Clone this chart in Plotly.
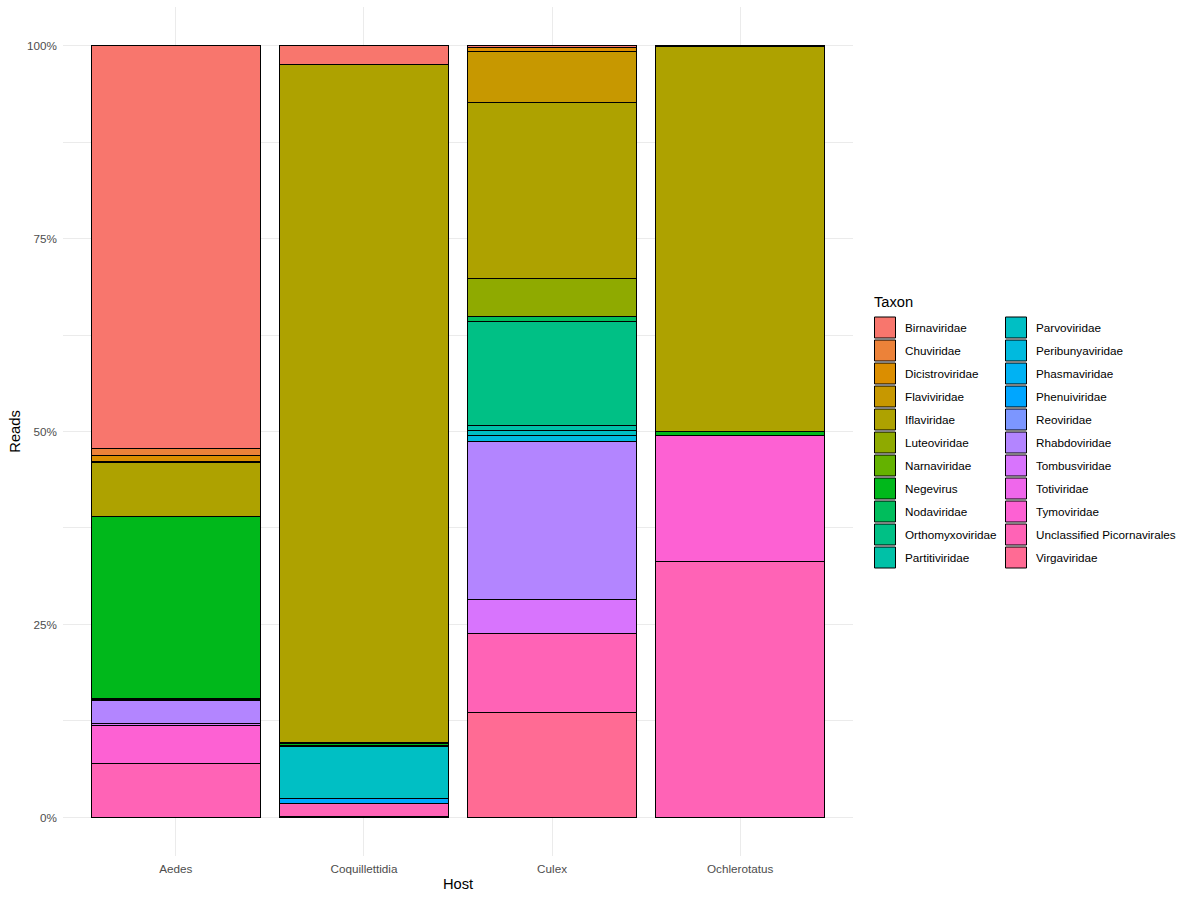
import math
import plotly.graph_objects as go

# ---------------- data ----------------
hosts = ["Aedes", "Coquillettidia", "Culex", "Ochlerotatus"]

taxa = ["Birnaviridae", "Chuviridae", "Dicistroviridae", "Flaviviridae", "Iflaviridae",
        "Luteoviridae", "Narnaviridae", "Negevirus", "Nodaviridae", "Orthomyxoviridae",
        "Partitiviridae", "Parvoviridae", "Peribunyaviridae", "Phasmaviridae", "Phenuiviridae",
        "Reoviridae", "Rhabdoviridae", "Tombusviridae", "Totiviridae", "Tymoviridae",
        "Unclassified Picornavirales", "Virgaviridae"]

# percent of reads per taxon (same order as taxa); None = not present
aedes = [52.1, 0.9, 0.8, 0.15, 6.95, None, None, 23.6, 0.1, None,
         None, 0.2, None, None, None, None, 3.0, 0.15, None, 5.0, 6.95, None]
coquillettidia = [2.5, None, None, None, 87.6, 0.15, None, 0.15, None, None,
                  0.15, 6.8, None, None, 0.65, None, None, None, None, None, 1.6, 0.15]
culex = [0.2, None, 0.5, 6.6, 22.8, 4.9, None, None, 0.65, 13.5,
         0.65, 0.65, 0.77, None, None, None, 20.47, 4.4, None, None, 10.24, 13.56]
ochlerotatus = [None, None, None, 0.15, 49.84, None, None, 0.5, None, None,
                None, None, None, None, None, None, None, None, None, 16.3, 33.12, None]

y_ticks = [0, 25, 50, 75, 100]
y_ticklabels = ["0%", "25%", "50%", "75%", "100%"]

series = [aedes, coquillettidia, culex, ochlerotatus]


# ---------------- ggplot hue palette ----------------
def hcl_hex(h, c=100.0, l=65.0):
    Xn, Yn, Zn = 95.047, 100.0, 108.883
    Y = Yn * ((l + 16) / 116) ** 3
    den = Xn + 15 * Yn + 3 * Zn
    un, vn = 4 * Xn / den, 9 * Yn / den
    u = c * math.cos(math.radians(h))
    v = c * math.sin(math.radians(h))
    up = u / (13 * l) + un
    vp = v / (13 * l) + vn
    X = Y * 9 * up / (4 * vp)
    Z = Y * (12 - 3 * up - 20 * vp) / (4 * vp)
    X, Y, Z = X / 100, Y / 100, Z / 100
    r = 3.240479 * X - 1.537150 * Y - 0.498535 * Z
    g = -0.969256 * X + 1.875992 * Y + 0.041556 * Z
    b = 0.055648 * X - 0.204043 * Y + 1.057311 * Z

    def gam(t):
        t = 1.055 * t ** (1 / 2.4) - 0.055 if t > 0.0031308 else 12.92 * t
        return int(round(min(max(t, 0), 1) * 255))
    return "#%02X%02X%02X" % (gam(r), gam(g), gam(b))


n = len(taxa)
colors = [hcl_hex(15 + 360 * i / n) for i in range(n)]

# normalize each host to 100% (position = "fill")
norm = []
for s in series:
    tot = sum(v for v in s if v is not None)
    norm.append([None if v is None else v / tot * 100 for v in s])

# ---------------- figure ----------------
fig = go.Figure()
# ggplot stacks first level on top -> add in reverse order
for i in reversed(range(n)):
    fig.add_trace(go.Bar(
        x=hosts,
        y=[norm[h][i] for h in range(len(hosts))],
        name=taxa[i],
        marker=dict(color=colors[i], line=dict(color="black", width=1)),
        width=0.9,
        showlegend=False,
        hoverinfo="x+y+name",
    ))

ML, MR, MT, MB = 63, 347, 7, 44
W, H = 1200, 900
PW, PH = W - ML - MR, H - MT - MB


def px_x(x):
    return (x - ML) / PW


def px_y(y):
    return 1 - (y - MT) / PH


fig.update_layout(
    width=W, height=H,
    barmode="stack",
    bargap=0.1,
    plot_bgcolor="white",
    paper_bgcolor="white",
    margin=dict(l=ML, r=MR, t=MT, b=MB),
    font=dict(family="Liberation Sans, Arial, sans-serif", color="black"),
    xaxis=dict(
        range=[-0.6, 3.6],
        showgrid=True, gridcolor="#EBEBEB", gridwidth=1,
        zeroline=False, showline=False, ticks="",
        tickfont=dict(size=11.7, color="#4D4D4D"),
        ticklabelstandoff=4,
        title=dict(text="Host", font=dict(size=14.7, color="black"), standoff=5),
    ),
    yaxis=dict(
        range=[-5, 105],
        tickvals=y_ticks, ticktext=y_ticklabels,
        showgrid=True, gridcolor="#EBEBEB", gridwidth=1,
        minor=dict(dtick=12.5, tick0=0, showgrid=True, gridcolor="#EBEBEB", gridwidth=0.5),
        zeroline=False, showline=False, ticks="",
        tickfont=dict(size=11.7, color="#4D4D4D"),
        ticklabelstandoff=5,
        title=dict(text="Reads", font=dict(size=14.7, color="black"), standoff=2),
    ),
)

# ---------------- legend (two columns, ggplot style) ----------------
shapes = []
annotations = []
annotations.append(dict(
    x=px_x(872), y=px_y(302), xref="paper", yref="paper",
    text="Taxon", showarrow=False, xanchor="left", yanchor="middle",
    font=dict(size=14.7, color="black"),
))
rows_per_col = 11
col_key_x = [874.5, 1005.5]
col_txt_x = [903, 1034]
key = 21
pitch = 23
top0 = 317
for i in range(n):
    col = i // rows_per_col
    row = i % rows_per_col
    x0 = col_key_x[col]
    y0 = top0 + row * pitch
    shapes.append(dict(
        type="rect", xref="paper", yref="paper",
        x0=px_x(x0), x1=px_x(x0 + key), y0=px_y(y0), y1=px_y(y0 + key),
        fillcolor=colors[i], line=dict(color="black", width=1),
    ))
    annotations.append(dict(
        x=px_x(col_txt_x[col]), y=px_y(y0 + key / 2), xref="paper", yref="paper",
        text=taxa[i], showarrow=False, xanchor="left", yanchor="middle",
        font=dict(size=11.7, color="black"),
    ))

fig.update_layout(shapes=shapes, annotations=annotations)

fig.write_html("out.html")
